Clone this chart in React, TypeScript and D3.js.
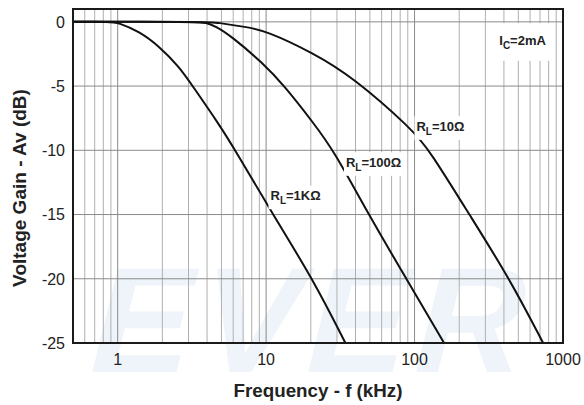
import React, { useEffect, useRef } from "react";
import * as d3 from "d3";

// frequency (kHz) / gain (dB)
const rl1kFreq = [0.5, 0.9, 1.0, 1.4, 1.9, 2.6, 3.2, 4.9, 6.2, 11.1, 20.6, 34.2];
const rl1kGain = [0, 0, -0.05, -0.75, -1.9, -3.5, -5, -8.1, -10, -15, -20, -25];

const rl100Freq = [0.5, 3.5, 3.9, 4.6, 5.8, 9.5, 13.3, 20.6, 28.5, 49, 88, 158];
const rl100Gain = [0, 0, -0.05, -0.35, -1.1, -3.2, -5, -7.8, -10, -15, -20, -25];

const rl10Freq = [0.5, 4.2, 4.6, 7.35, 10, 20.6, 38.4, 97, 126, 234, 437, 735];
const rl10Gain = [0, 0, -0.05, -0.4, -0.7, -2.4, -4.3, -8.4, -10, -15, -20, -25];

const freqTicks = [1, 10, 100, 1000];
const gainTicks = [0, -5, -10, -15, -20, -25];

const labelNames = ["RL=1KΩ", "RL=100Ω", "RL=10Ω", "IC=2mA"];
const labelFreq = [10.7, 34.5, 103, 372];
const labelGain = [-13.9, -11.3, -8.5, -1.8];

const W = 584;
const H = 405;
const margin = { top: 9, right: 21, bottom: 62, left: 73 };

const App: React.FC = () => {
  const ref = useRef<SVGSVGElement | null>(null);

  useEffect(() => {
    const svg = d3.select(ref.current);
    svg.selectAll("*").remove();
    svg.attr("width", W).attr("height", H);

    const x = d3
      .scaleLog()
      .domain([0.5, 1000])
      .range([margin.left, W - margin.right]);
    const y = d3
      .scaleLinear()
      .domain([-25, 1])
      .range([H - margin.bottom, margin.top]);

    const font = "Liberation Sans, Arial, Helvetica, sans-serif";

    // faint watermark
    svg
      .append("text")
      .attr("x", 175)
      .attr("y", 372)
      .attr("transform", "skewX(-14)")
      .attr("font-family", font)
      .attr("font-weight", "bold")
      .attr("font-size", 150)
      .attr("letter-spacing", 8)
      .attr("fill", "#eef4fa")
      .text("EVER");

    // vertical grid
    const minor: number[] = [];
    [0.1, 1, 10, 100].forEach((dec) => {
      for (let k = 1; k <= 9; k++) {
        const v = dec * k;
        if (v > 0.5 && v < 1000) minor.push(v);
      }
    });
    svg
      .append("g")
      .selectAll("line")
      .data(minor)
      .enter()
      .append("line")
      .attr("x1", (d) => x(d))
      .attr("x2", (d) => x(d))
      .attr("y1", y(1))
      .attr("y2", y(-25))
      .attr("stroke", (d) => (freqTicks.includes(d) ? "#8a8a8a" : "#b0b0b0"))
      .attr("stroke-width", 1);

    // horizontal grid
    svg
      .append("g")
      .selectAll("line")
      .data(gainTicks.slice(0, -1))
      .enter()
      .append("line")
      .attr("x1", x(0.5))
      .attr("x2", x(1000))
      .attr("y1", (d) => y(d))
      .attr("y2", (d) => y(d))
      .attr("stroke", "#8a8a8a")
      .attr("stroke-width", 1);

    // curves
    const line = d3
      .line<[number, number]>()
      .x((d) => x(d[0]))
      .y((d) => y(d[1]))
      .curve(d3.curveBasis);

    const series: [number[], number[]][] = [
      [rl1kFreq, rl1kGain],
      [rl100Freq, rl100Gain],
      [rl10Freq, rl10Gain],
    ];
    series.forEach(([f, g]) => {
      svg
        .append("path")
        .attr("d", line(f.map((v, i) => [v, g[i]] as [number, number])))
        .attr("fill", "none")
        .attr("stroke", "#111")
        .attr("stroke-width", 2);
    });

    // frame
    svg
      .append("rect")
      .attr("x", x(0.5))
      .attr("y", y(1))
      .attr("width", x(1000) - x(0.5))
      .attr("height", y(-25) - y(1))
      .attr("fill", "none")
      .attr("stroke", "#1a1a1a")
      .attr("stroke-width", 2);

    // tick labels
    svg
      .append("g")
      .selectAll("text")
      .data(freqTicks)
      .enter()
      .append("text")
      .attr("x", (d) => x(d))
      .attr("y", 365)
      .attr("text-anchor", "middle")
      .attr("font-family", font)
      .attr("font-size", 16)
      .attr("fill", "#222")
      .text((d) => String(d));

    svg
      .append("g")
      .selectAll("text")
      .data(gainTicks)
      .enter()
      .append("text")
      .attr("x", 65)
      .attr("y", (d) => y(d))
      .attr("dy", "0.36em")
      .attr("text-anchor", "end")
      .attr("font-family", font)
      .attr("font-size", 16)
      .attr("fill", "#222")
      .text((d) => String(d));

    // axis titles
    svg
      .append("text")
      .attr("x", (x(0.5) + x(1000)) / 2)
      .attr("y", 396.5)
      .attr("text-anchor", "middle")
      .attr("font-family", font)
      .attr("font-weight", "bold")
      .attr("font-size", 18.8)
      .attr("fill", "#222")
      .text("Frequency - f (kHz)");

    svg
      .append("text")
      .attr("transform", "translate(25.5,188) rotate(-90)")
      .attr("text-anchor", "middle")
      .attr("font-family", font)
      .attr("font-weight", "bold")
      .attr("font-size", 19)
      .attr("fill", "#222")
      .text("Voltage Gain - Av (dB)");

    // curve annotations with white backing
    labelNames.forEach((name, i) => {
      const g = svg.append("g");
      const bg = g.append("rect").attr("fill", "#fff");
      const t = g
        .append("text")
        .attr("x", x(labelFreq[i]))
        .attr("y", y(labelGain[i]))
        .attr("font-family", font)
        .attr("font-weight", "bold")
        .attr("font-size", 13)
        .attr("fill", "#222");
      t.append("tspan").text(name[0]);
      t.append("tspan")
        .attr("dy", 4)
        .attr("font-size", 10)
        .text(name[1]);
      t.append("tspan").attr("dy", -4).text(name.slice(2));
      const box = (t.node() as SVGTextElement).getBBox();
      const pad = name.startsWith("IC") ? 7 : 2;
      bg.attr("x", box.x - pad)
        .attr("y", box.y - pad * 1.4)
        .attr("width", box.width + pad * 2)
        .attr("height", box.height + pad * 2.8);
    });
  }, []);

  return (
    <svg
      ref={ref}
      style={{ position: "absolute", left: 0, top: 0, background: "#fff" }}
    ></svg>
  );
};

export default App;
